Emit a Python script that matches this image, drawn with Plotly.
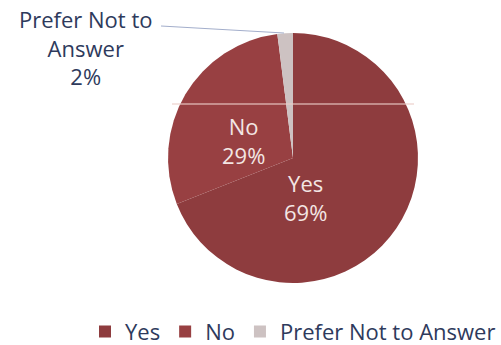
import plotly.graph_objects as go

# Survey answers and their share of responses (percent)
labels = ["Yes", "No", "Prefer Not to Answer"]
values = [69, 29, 2]
colors = ["#8E3C3E", "#984042", "#CDC2C2"]

W, H = 501, 345
cx, cy, r = 293, 158, 125  # pie centre / radius in pixels

fig = go.Figure(
    go.Pie(
        labels=labels,
        values=values,
        sort=False,
        direction="clockwise",
        rotation=0,
        marker=dict(colors=colors, line=dict(width=0)),
        textinfo="none",
        hoverinfo="label+percent",
        domain=dict(x=[(cx - r) / W, (cx + r) / W],
                    y=[(H - cy - r) / H, (H - cy + r) / H]),
    )
)

font_family = "Open Sans, Noto Sans, sans-serif"
navy = "#2E3A5C"
inner = "#F3E6E4"
fs = 22

total = sum(values)
pct = [f"{round(v * 100 / total)}%" for v in values]

annotations = [
    dict(x=243 / W, y=1 - 140 / H, text=f"{labels[1]}<br>{pct[1]}",
         font=dict(color=inner, size=fs)),
    dict(x=305 / W, y=1 - 197 / H, text=f"{labels[0]}<br>{pct[0]}",
         font=dict(color=inner, size=fs)),
    dict(x=85 / W, y=1 - 48 / H, text=f"Prefer Not to<br>Answer<br>{pct[2]}",
         font=dict(color=navy, size=fs)),
]
for a in annotations:
    a.update(xref="paper", yref="paper", showarrow=False,
             xanchor="center", yanchor="middle")
    a["font"]["family"] = font_family

fig.update_layout(
    width=W,
    height=H,
    margin=dict(l=0, r=0, t=0, b=0, autoexpand=False),
    paper_bgcolor="white",
    plot_bgcolor="white",
    font=dict(family=font_family, color=navy, size=fs),
    annotations=annotations,
    shapes=[
        # leader line for the small slice
        dict(type="line", xref="paper", yref="paper",
             x0=161 / W, y0=1 - 26 / H, x1=284 / W, y1=1 - 33 / H,
             line=dict(color="#A3AECB", width=1.2)),
        # faint light band across the pie
        dict(type="line", xref="paper", yref="paper",
             x0=172 / W, y0=1 - 104 / H, x1=414 / W, y1=1 - 104 / H,
             line=dict(color="rgba(235,205,200,0.75)", width=1.5)),
    ],
    legend=dict(
        orientation="h",
        x=1.0, xanchor="right",
        y=-0.022, yanchor="bottom",
        font=dict(size=fs, color=navy, family=font_family),
        itemwidth=30,
        tracegroupgap=0,
        bgcolor="rgba(0,0,0,0)",
    ),
)

fig.write_html("out.html")
